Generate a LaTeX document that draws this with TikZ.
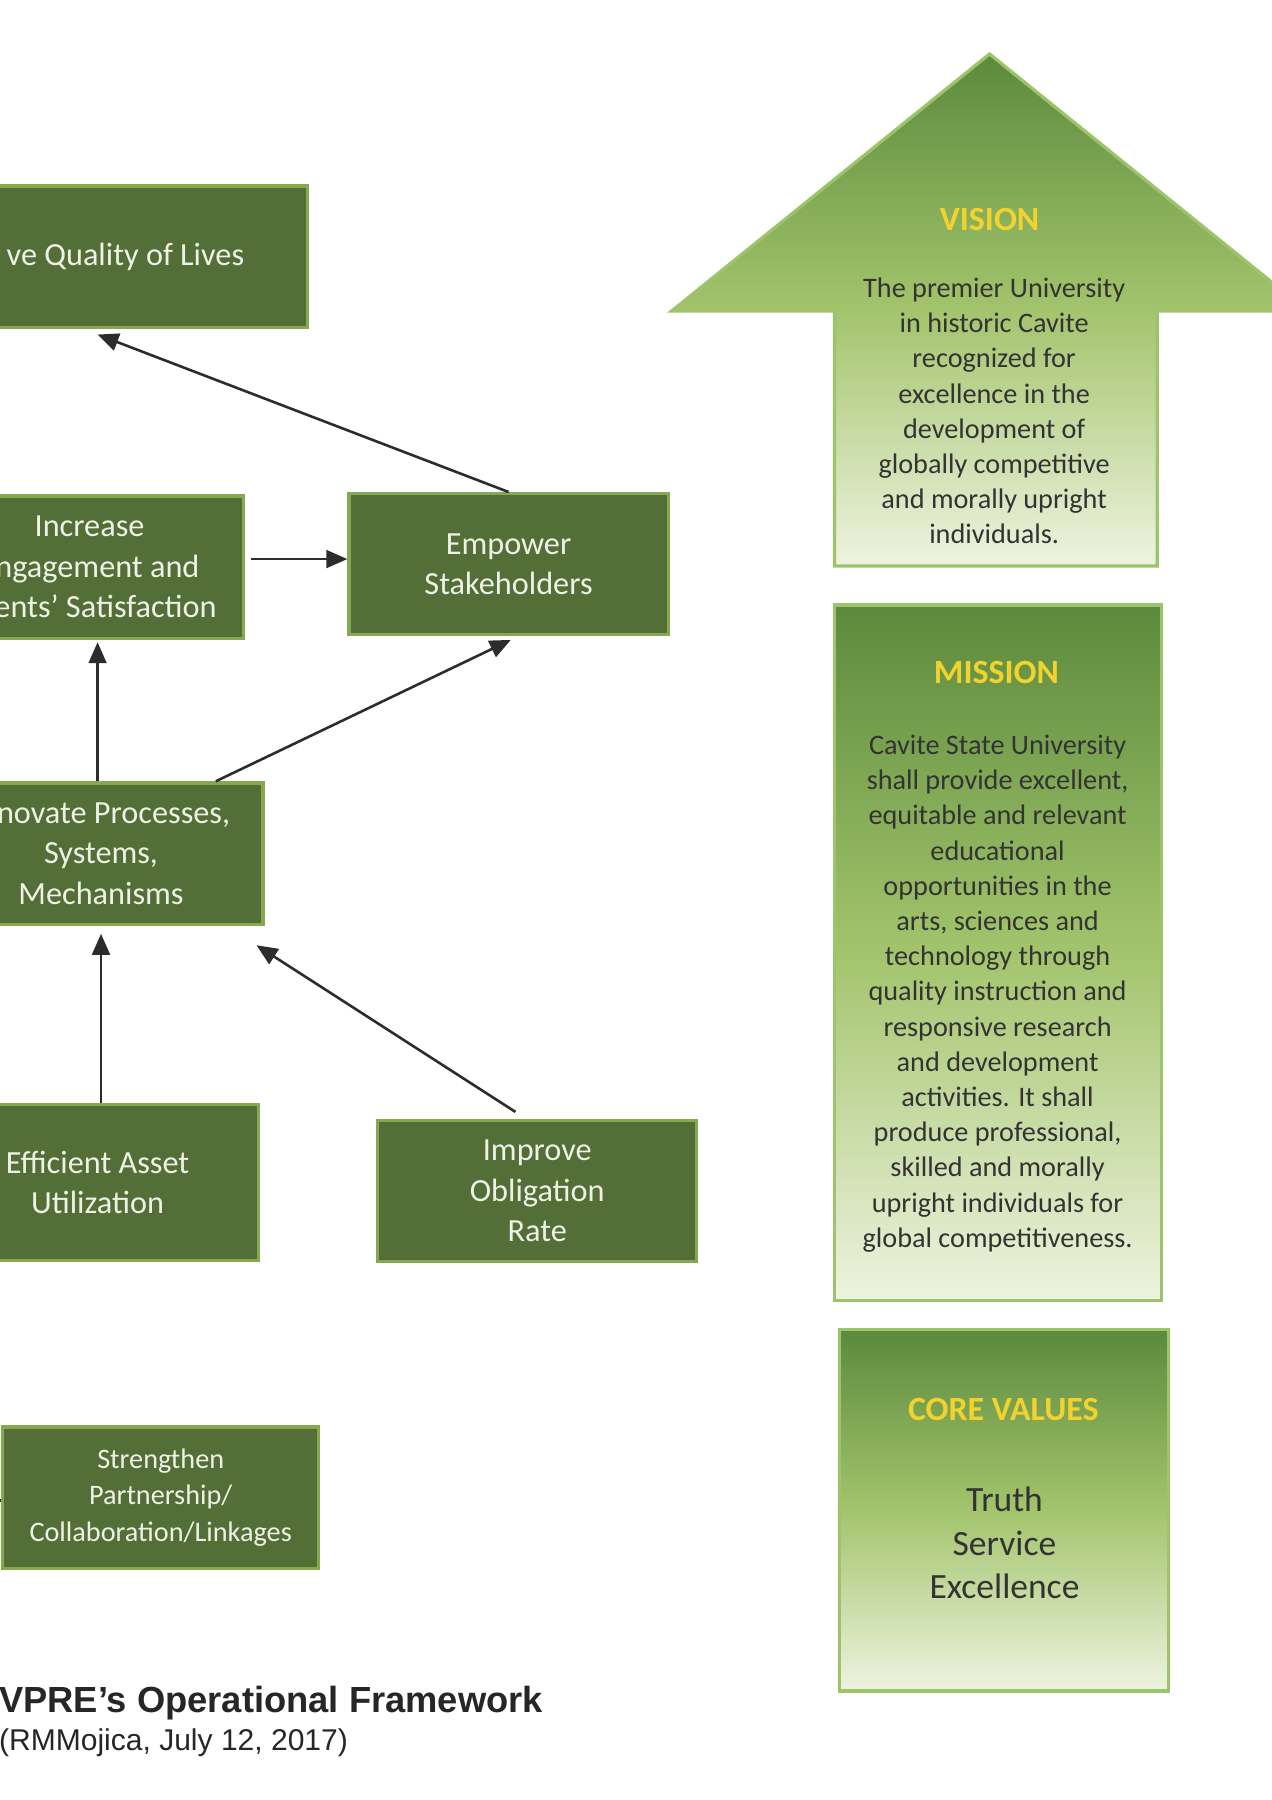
\documentclass[tikz,border=0pt]{standalone}
\usepackage{fontspec}
\setmainfont{Carlito}
\newfontfamily\titlefont{Liberation Sans}
\usetikzlibrary{arrows.meta,calc,positioning}

\definecolor{boxfill}{HTML}{536E36}
\definecolor{boxedge}{HTML}{86A84F}
\definecolor{boxtext}{HTML}{EEF2E6}
\definecolor{darkgr}{HTML}{5B8A3C}
\definecolor{midgr}{HTML}{A3C46C}
\definecolor{palegr}{HTML}{EEF3E0}
\definecolor{edgegr}{HTML}{9DC46A}
\definecolor{gold}{HTML}{F2D22E}
\definecolor{inkgray}{HTML}{333333}
\definecolor{arrowgray}{HTML}{2C2C2C}

\tikzset{
  goal/.style={rectangle, draw=boxedge, fill=boxfill, line width=2pt, text=boxtext,
    align=center, font=\fontsize{20}{25}\selectfont, inner sep=0pt, minimum height=3.075cm},
  panel/.style={draw=edgegr, line width=2pt, top color=darkgr, bottom color=palegr, middle color=midgr},
  head/.style={text=gold, font=\fontsize{21}{25}\selectfont\bfseries},
  body/.style={text=inkgray, align=center, font=\fontsize{17.5}{21.8}\selectfont},
  link/.style={->, draw=arrowgray, line width=1.6pt}
}

\begin{document}
\begin{tikzpicture}[x=0.025cm, y=-0.025cm, >={Triangle[length=13pt,width=11pt]}]
  \useasboundingbox (0,0) rectangle (1108,1568);
  \clip (0,0) rectangle (1108,1568);
  \fill[white] (0,0) rectangle (1108,1568);

  % goals
  \node[goal, minimum width=9.65cm] (qol) at (75,223.5) {\phantom{Impro}ve Quality of Lives};
  \node[goal, minimum width=6.7cm, minimum height=3.1cm] (inc) at (78,494) {Increase\\\phantom{E}ngagement and\\\phantom{Cli}ents’ Satisfaction};
  \node[goal, minimum width=6.95cm] (emp) at (443,491.5) {Empower\\Stakeholders};
  \node[goal, minimum width=7.05cm] (inn) at (88,743.5) {\phantom{In}novate Processes,\\Systems,\\Mechanisms};
  \node[goal, minimum width=7cm, minimum height=3.4cm] (eff) at (85,1030) {Efficient Asset\\Utilization};
  \node[goal, minimum width=6.95cm] (imp) at (468,1037.5) {Improve\\Obligation\\Rate};
  \node[goal, minimum width=6.875cm, font=\fontsize{17.5}{22.8}\selectfont] (str) at (140,1304.5) {Strengthen\\Partnership/\\Collaboration/Linkages};

  % links
  \draw[link] ($(inc.east)+(5,-7)$) -- ($(emp.west)+(0,-4.5)$);
  \draw[link] (emp.north) -- ($(qol.south)+(10,5)$);
  \draw[link] ($(inn.north)+(-3,0)$) -- ($(inc.south)+(7,2)$);
  \draw[link] ($(inn.north)+(100,0)$) -- ($(emp.south)+(2,3)$);
  \draw[link] ($(eff.north)+(3,0)$) -- ($(inn.south)+(0,7)$);
  \draw[link] ($(imp.north)+(-19,-6)$) -- ($(inn.south east)+(-7,17)$);
  \coordinate (offl) at (-20,1307);
  \draw[arrowgray, line width=1.6pt] (offl) -- (str.west |- offl);

  % vision
  \draw[panel] (862,47) -- (1139,271) -- (1008,271) -- (1008,493) -- (727,493) -- (727,271) -- (585,271) -- cycle;
  \node[head] (vishead) at (862,191) {VISION};
  \node[body] (vistext) at (866,358) {The premier University\\in historic Cavite\\recognized for\\excellence in the\\development of\\globally competitive\\and morally upright\\individuals.};

  % mission
  \draw[panel] (727,527) rectangle (1012,1133);
  \node[head] (mishead) at (868,586) {MISSION};
  \node[body] (mistext) at (869,865.5) {Cavite State University\\shall provide excellent,\\equitable and relevant\\educational\\opportunities in the\\arts, sciences and\\technology through\\quality instruction and\\responsive research\\and development\\activities. It shall\\produce professional,\\skilled and morally\\upright individuals for\\global competitiveness.};

  % core values
  \draw[panel] (731,1158) rectangle (1018,1473);
  \node[head] (corehead) at (874,1228) {CORE VALUES};
  \node[body, font=\fontsize{22}{27}\selectfont] (coretext) at (875,1344) {Truth\\Service\\Excellence};

  % caption
  \node[anchor=west, inner sep=0pt, text=black!85, font={\titlefont\bfseries\fontsize{22.5}{26}\selectfont}] (title) at (-1,1484) {VPRE’s Operational Framework};
  \node[anchor=west, inner sep=0pt, text=black!85, font={\titlefont\fontsize{18.6}{22}\selectfont}] (credit) at (-1,1518) {(RMMojica, July 12, 2017)};
\end{tikzpicture}
\end{document}
